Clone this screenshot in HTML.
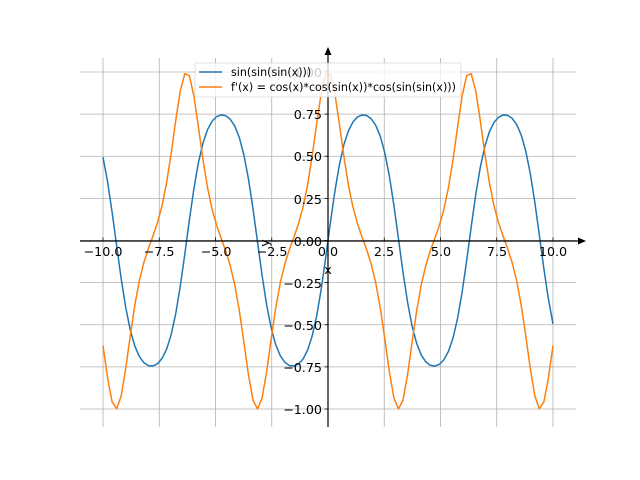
<!DOCTYPE html>
<html><head><meta charset="utf-8"><style>
html,body{margin:0;padding:0;background:#fff;}
svg{display:block;}
text{font-family:"DejaVu Sans","Liberation Sans",sans-serif;font-size:12.7px;fill:#000;}
</style></head><body>
<svg id="s" width="640" height="480" viewBox="0 0 640 480" xmlns="http://www.w3.org/2000/svg">
<g id="grid" stroke="#b0b0b0" stroke-width="0.8"></g>
<path id="blue" fill="none" stroke="#1f77b4" stroke-width="1.5" stroke-linejoin="round"/>
<path id="orange" fill="none" stroke="#ff7f0e" stroke-width="1.5" stroke-linejoin="round"/>
<g stroke="#000" stroke-width="1.2">
<line x1="80" y1="241" x2="580" y2="241"/>
<line x1="328" y1="427" x2="328" y2="53"/>
</g>
<polygon points="586,241 578,237.5 578,244.5" fill="#000"/>
<polygon points="328,47 324.5,55 331.5,55" fill="#000"/>
<g id="ticks" stroke="#000" stroke-width="0.8"></g>
<g text-anchor="middle">
<text x="103" y="256">−10.0</text>
<text x="159" y="256">−7.5</text>
<text x="216" y="256">−5.0</text>
<text x="272" y="256">−2.5</text>
<text x="328" y="256">0.0</text>
<text x="384" y="256">2.5</text>
<text x="441" y="256">5.0</text>
<text x="497" y="256">7.5</text>
<text x="553" y="256">10.0</text>
</g>
<g text-anchor="end">
<text x="322" y="77">1.00</text>
<text x="322" y="119">0.75</text>
<text x="322" y="161">0.50</text>
<text x="322" y="204">0.25</text>
<text x="322" y="246">0.00</text>
<text x="322" y="288">−0.25</text>
<text x="322" y="330">−0.50</text>
<text x="322" y="372">−0.75</text>
<text x="322" y="414">−1.00</text>
</g>
<text x="328" y="274" text-anchor="middle">x</text>
<text x="0" y="0" text-anchor="middle" transform="translate(269,243) rotate(-90)">y</text>
<rect x="195" y="63" width="266" height="34" rx="2" fill="#fff" fill-opacity="0.8" stroke="#ccc" stroke-opacity="0.8" stroke-width="0.8"/>
<line x1="199" y1="72" x2="222" y2="72" stroke="#1f77b4" stroke-width="1.5"/>
<line x1="199" y1="87" x2="222" y2="87" stroke="#ff7f0e" stroke-width="1.5"/>
<text x="231" y="76" style="font-size:11.1px">sin(sin(sin(x)))</text>
<text x="231" y="91" style="font-size:11.1px">f'(x) = cos(x)*cos(sin(x))*cos(sin(sin(x)))</text>
</svg>
<script>
var X=function(v){return 328+22.5*v},Y=function(v){return 240.5-168.5*v};
var g=document.getElementById('grid'),t=document.getElementById('ticks'),ns='http://www.w3.org/2000/svg';
function ln(p,a,b,c,d){var l=document.createElementNS(ns,'line');l.setAttribute('x1',a);l.setAttribute('y1',b);l.setAttribute('x2',c);l.setAttribute('y2',d);p.appendChild(l);}
for(var i=-4;i<=4;i++){var x=X(i*2.5);ln(g,x,58,x,427);ln(t,x,241,x,237.5);}
for(var i=-4;i<=4;i++){var y=Y(i*0.25);ln(g,80,y,576,y);ln(t,328,y,324.5,y);}
var b='',o='';
for(var i=0;i<100;i++){var v=-10+20*i/99;var f=Math.sin(Math.sin(Math.sin(v)));var d=Math.cos(v)*Math.cos(Math.sin(v))*Math.cos(Math.sin(Math.sin(v)));
b+=(i?'L':'M')+X(v).toFixed(2)+','+Y(f).toFixed(2);o+=(i?'L':'M')+X(v).toFixed(2)+','+Y(d).toFixed(2);}
document.getElementById('blue').setAttribute('d',b);document.getElementById('orange').setAttribute('d',o);
</script>
</body></html>
